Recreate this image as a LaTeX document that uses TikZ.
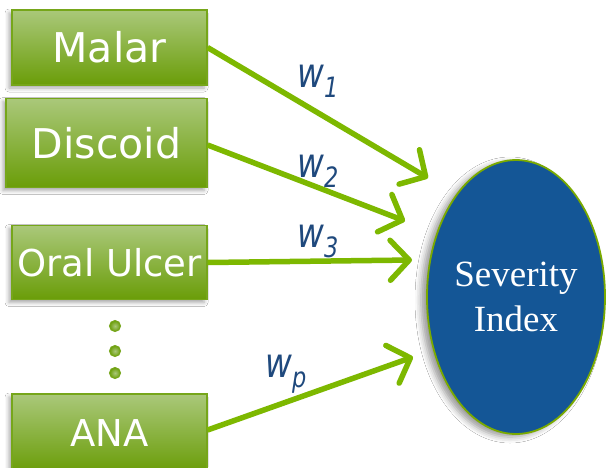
\documentclass[tikz,border=0pt]{standalone}
\usepackage{fontspec}
\usetikzlibrary{arrows.meta,shapes.geometric,shadows.blur}
\newfontfamily\boxfont{DejaVu Sans}
\newfontfamily\wfont[FakeStretch=0.8]{DejaVu Sans}
\setmainfont{Liberation Serif}
\definecolor{arrowgreen}{RGB}{125,184,0}
\definecolor{boxtop}{RGB}{170,200,122}
\definecolor{boxbot}{RGB}{106,157,8}
\definecolor{boxline}{RGB}{118,166,26}
\definecolor{ellblue}{RGB}{20,86,150}
\definecolor{ellline}{RGB}{122,170,0}
\definecolor{wblue}{RGB}{31,73,125}
\tikzset{
  gbox/.style={draw=boxline, line width=1.2pt, top color=boxtop, bottom color=boxbot,
    inner sep=0pt, text=white, text depth=0pt,
    blur shadow={shadow xshift=-3pt, shadow yshift=-3pt, shadow blur radius=4pt, shadow opacity=35}},
  big/.style={font=\boxfont\fontsize{41}{41}\selectfont, text height=30pt},
  small/.style={font=\boxfont\fontsize{37}{37}\selectfont, text height=27pt},
  warrow/.style={draw=arrowgreen, line width=5.5pt, -{Straight Barb[length=19pt,width=40pt,round]}},
  wlab/.style={text=wblue, inner sep=0pt, anchor=base west, font=\wfont\itshape\fontsize{41}{41}\selectfont},
  gdot/.style={circle, minimum size=11pt, inner sep=0pt, draw=boxline, line width=1pt,
    inner color=boxtop, outer color=boxbot},
}
\newcommand{\wsub}[1]{\raisebox{-10pt}{\fontsize{28}{28}\selectfont #1}}
\begin{document}
\begin{tikzpicture}[x=1pt,y=-1pt]
\useasboundingbox (0,0) rectangle (606,467);
\fill[white] (0,0) rectangle (606,467);
\node[gbox, big, minimum width=195pt, minimum height=75pt] (malar) at (109.5,47.5) {Malar};
\node[gbox, big, minimum width=201pt, minimum height=89pt] (discoid) at (106.5,143) {Discoid};
\node[gbox, small, minimum width=195pt, minimum height=74pt] (oral) at (109.5,262.5) {Oral Ulcer};
\node[gbox, small, minimum width=195pt, minimum height=78pt] (ana) at (109.5,433) {ANA};
\node[gdot] (d1) at (115,326) {};
\node[gdot] (d2) at (115,351) {};
\node[gdot] (d3) at (115,373) {};
\node[ellipse, draw=ellline, line width=1.8pt, fill=ellblue, minimum width=178pt, minimum height=274pt,
  inner sep=0pt, text=white, align=center, font=\fontsize{37}{45}\selectfont,
  blur shadow={shadow xshift=-6pt, shadow yshift=-3pt, shadow blur radius=6pt, shadow opacity=40}]
  (sev) at (516,297) {Severity\\Index};
\coordinate (t1) at (428,178);
\coordinate (t2) at (405,221);
\coordinate (t3) at (412,260);
\coordinate (tp) at (413,357);
\draw[warrow] ([yshift=0pt]malar.east) -- (t1);
\draw[warrow] ([yshift=-2pt]discoid.east) -- (t2);
\draw[warrow] (oral.east) -- (t3);
\draw[warrow] ([yshift=3pt]ana.east) -- (tp);
\node[wlab] (w1) at (297,87) {w\wsub{1}};
\node[wlab] (w2) at (297,177) {w\wsub{2}};
\node[wlab] (w3) at (297,247) {w\wsub{3}};
\node[wlab] (wp) at (265,377) {w\wsub{p}};
\end{tikzpicture}
\end{document}
